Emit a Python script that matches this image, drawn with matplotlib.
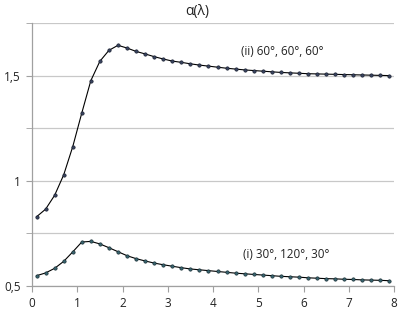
import matplotlib
matplotlib.use("Agg")
import matplotlib.pyplot as plt
from matplotlib.ticker import MultipleLocator, FuncFormatter

lam = [round(0.1 + 0.2 * i, 1) for i in range(40)]

alpha_ii = [0.829, 0.865, 0.931, 1.028, 1.162, 1.322, 1.476, 1.568, 1.620, 1.644,
            1.631, 1.615, 1.603, 1.590, 1.579, 1.569, 1.563, 1.556, 1.550, 1.545,
            1.540, 1.535, 1.531, 1.527, 1.524, 1.521, 1.518, 1.515, 1.513, 1.511,
            1.509, 1.508, 1.507, 1.506, 1.505, 1.504, 1.503, 1.502, 1.501, 1.500]

alpha_i = [0.549, 0.562, 0.584, 0.617, 0.662, 0.709, 0.712, 0.700, 0.682, 0.663,
           0.644, 0.630, 0.619, 0.609, 0.601, 0.594, 0.587, 0.581, 0.577, 0.573,
           0.569, 0.565, 0.561, 0.558, 0.555, 0.552, 0.549, 0.546, 0.544, 0.542,
           0.539, 0.537, 0.535, 0.534, 0.532, 0.531, 0.529, 0.528, 0.527, 0.525]

label_ii = "(ii) 60°, 60°, 60°"
label_i = "(i) 30°, 120°, 30°"
title = "α(λ)"

plt.rcParams['font.family'] = ['Open Sans', 'DejaVu Sans']

fig = plt.figure(figsize=(3.99, 3.15), dpi=100)
ax = fig.add_axes([32/399, 29/315, 362/399, 263/315])

ax.plot(lam, alpha_ii, color='black', lw=0.8, marker='o', ms=2.4,
        mfc='#3a4560', mec='#1a1f30', mew=0.5)
ax.plot(lam, alpha_i, color='black', lw=0.8, marker='o', ms=2.4,
        mfc='#3a6570', mec='#1a2f35', mew=0.5)

ax.set_xlim(0, 8)
ax.set_ylim(0.5, 1.75)
ax.xaxis.set_major_locator(MultipleLocator(1))
ax.yaxis.set_major_locator(MultipleLocator(0.5))
ax.yaxis.set_minor_locator(MultipleLocator(0.25))

def comma(v, pos):
    s = ('%g' % v).replace('.', ',')
    return s
ax.yaxis.set_major_formatter(FuncFormatter(comma))

ax.grid(True, which='both', axis='y', color='#c8c8c8', lw=0.9)
ax.set_axisbelow(True)
for s in ['top', 'right']:
    ax.spines[s].set_visible(False)
for s in ['left', 'bottom']:
    ax.spines[s].set_color('#a0a0a0')
    ax.spines[s].set_linewidth(0.9)

ax.tick_params(axis='x', which='major', direction='out', length=4, color='#a0a0a0',
               labelsize=8.5, pad=4, labelcolor='#222222')
ax.tick_params(axis='y', which='both', direction='out', length=4, color='#a0a0a0',
               labelsize=8.5, pad=4, labelcolor='#222222')
ax.tick_params(axis='y', which='minor', labelleft=False)

ax.text(5.54, 1.614, label_ii, fontsize=8.4, ha='center', va='center', color='#222222')
ax.text(5.61, 0.652, label_i, fontsize=8.4, ha='center', va='center', color='#222222')

fig.text(197/399, 1 - 12/315, title, fontsize=10, ha='center', va='center', color='#222222')

fig.savefig('out.png', dpi=100)
